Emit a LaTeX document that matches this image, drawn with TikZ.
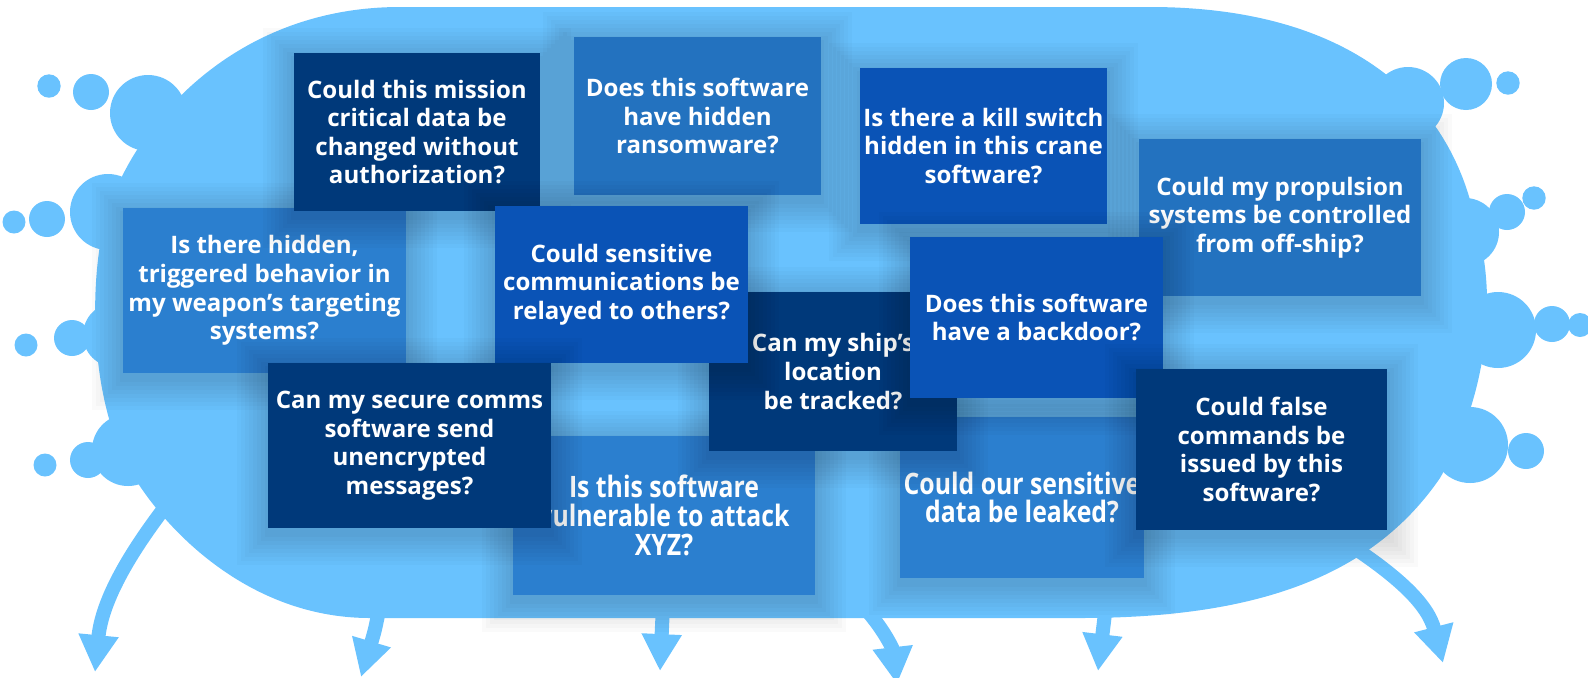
\documentclass[tikz,border=0pt]{standalone}
\usepackage{fontspec}
\setmainfont{Open Sans}
\newfontfamily\condfont{Open Sans}[FakeStretch=0.84]
\usetikzlibrary{arrows.meta}
\definecolor{sky}{HTML}{69C2FE}
\definecolor{navy}{HTML}{00397A}
\definecolor{midblue}{HTML}{2B7FCF}
\definecolor{steel}{HTML}{2372BF}
\definecolor{royal}{HTML}{0A53B6}
\tikzset{
  qbox/.style={rectangle, inner sep=0pt, text=white, align=center,
    font=\bfseries\fontsize{13.7pt}{16.3pt}\selectfont},
  condtext/.style={font=\condfont\bfseries\fontsize{16.8pt}{16.3pt}\selectfont},
  softshadow/.style={fill=black, fill opacity=0.02},
  flow/.style={draw=sky, line width=8pt, -{Triangle[width=21.5pt,length=21pt]}},
}
% [extra style] name, x1, y1, x2, y2, colour, text
\newcommand\qbox[8][]{%
  \foreach \d in {3,7,...,31}
    \fill[softshadow] ({#3-\d},{#4-\d+6}) rectangle ({#5+\d},{#6+\d+6});
  \node[qbox, fill=#7, #1, minimum width={(#5-#3)*0.02cm}, minimum height={(#6-#4)*0.02cm}] (#2) at ({(#3+#5)/2},{(#4+#6)/2}) {#8};}
\begin{document}
\begin{tikzpicture}[x=0.02cm, y=-0.02cm]
\useasboundingbox (0,0) rectangle (1588,677);
\clip (0,0) rectangle (1588,677);
% main cloud
\fill[sky] (400,7) -- (1150,7) .. controls (1350,7) and (1450,100) .. (1475,220)
  .. controls (1500,300) and (1485,400) .. (1440,478)
  .. controls (1370,580) and (1250,618) .. (1080,618) -- (370,618)
  .. controls (230,618) and (140,500) .. (120,450)
  .. controls (90,380) and (90,280) .. (105,220)
  .. controls (130,130) and (230,7) .. (400,7) -- cycle;
% bubbles
\foreach \x/\y/\r in {49/86/11.7, 91/92/18, 148/113/38, 108/212/38, 47/219/18, 14/222/11.5,
  115/335/32, 72/338/18, 26/345/11.5, 128/450/36, 88/460/18, 45/465/11.5,
  1408/103/36, 1466/84/26, 1508/83/11.7, 1465/232/34, 1507/212/18, 1534/198/11.7,
  1498/330/38, 1552/324/18, 1580/325/12, 1470/445/38, 1526/451/18}
  \fill[sky] (\x,\y) circle[radius=\r];
% arrows
\coordinate (s1) at (180,488); \coordinate (e1) at (95,672);
\coordinate (s2) at (380,605); \coordinate (e2) at (361,677);
\coordinate (s3) at (663,605); \coordinate (e3) at (660,671);
\coordinate (s4) at (862,605); \coordinate (e4) at (897,684);
\coordinate (s5) at (1106,605); \coordinate (e5) at (1098,671);
\coordinate (s6) at (1350,545); \coordinate (e6) at (1443,663);
\draw[flow] (s1) .. controls (130,550) and (102,600) .. (e1);
\draw[flow] (s2) .. controls (375,630) .. (e2);
\draw[flow] (s3) -- (e3);
\draw[flow] (s4) .. controls (885,630) and (893,650) .. (e4);
\draw[flow] (s5) -- (e5);
\draw[flow] (s6) .. controls (1400,578) and (1428,605) .. (e6);
% question boxes
\qbox{b5}{123}{208}{406}{373}{midblue}{Is there hidden,\\triggered behavior in\\my weapon’s targeting\\systems?}
\qbox{b1}{294}{53}{540}{211}{navy}{Could this mission\\critical data be\\changed without\\authorization?}
\qbox{b2}{574}{37}{821}{195}{steel}{Does this software\\have hidden\\ransomware?}
\qbox{b3}{860}{68}{1107}{224}{royal}{Is there a kill switch\\hidden in this crane\\software?}
\qbox{b4}{1139}{139}{1421}{296}{steel}{Could my propulsion\\systems be controlled\\from off-ship?}
\qbox[condtext]{b10}{513}{436}{815}{595}{midblue}{Is this software\\vulnerable to attack\\XYZ?}
\qbox[condtext]{b11}{900}{417}{1144}{578}{midblue}{Could our sensitive\\data be leaked?}
\qbox{b7}{709}{292}{957}{451}{navy}{Can my ship’s\\location\\be tracked?}
\qbox{b6}{495}{206}{748}{363}{royal}{Could sensitive\\communications be\\relayed to others?}
\qbox{b8}{910}{237}{1163}{398}{royal}{Does this software\\have a backdoor?}
\qbox{b9}{268}{363}{551}{528}{navy}{Can my secure comms\\software send\\unencrypted\\messages?}
\qbox{b12}{1136}{369}{1387}{530}{navy}{Could false\\commands be\\issued by this\\software?}
\end{tikzpicture}
\end{document}
